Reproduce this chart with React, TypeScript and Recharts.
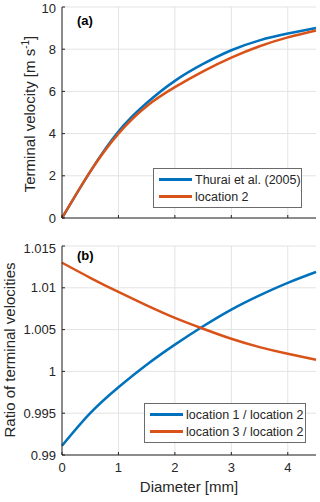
import { CartesianGrid, Label, Legend, Line, LineChart, XAxis, YAxis } from "recharts";

const diameters = [0, 0.5, 1, 1.5, 2, 2.5, 3, 3.5, 4, 4.5];
const thurai = [0, 2.2, 4.1, 5.45, 6.5, 7.3, 7.95, 8.42, 8.74, 9.0];
const location2 = [0, 2.2, 4.0, 5.3, 6.2, 6.95, 7.6, 8.14, 8.56, 8.89];

const ratio1to2 = [0.9911, 0.995, 0.9981, 1.0008, 1.0032, 1.0054, 1.0074, 1.0091, 1.0106, 1.0119];
const ratio3to2 = [1.013, 1.0112, 1.0095, 1.0079, 1.0064, 1.0051, 1.0039, 1.0029, 1.0021, 1.0014];

const xTicks = [0, 1, 2, 3, 4];
const vTicks = [0, 2, 4, 6, 8, 10];
const rTicks = [0.99, 0.995, 1, 1.005, 1.01, 1.015];

const BLUE = "#0072BD";
const ORANGE = "#D95319";
const AXIS = "#262626";
const GRID = "#e3e3e3";
const FONT = "'Liberation Sans', Arial, sans-serif";

const dataA = diameters.map((d, i) => ({ d, thurai: thurai[i], loc2: location2[i] }));
const dataB = diameters.map((d, i) => ({ d, r1: ratio1to2[i], r3: ratio3to2[i] }));

const tickStyle = { fontSize: 13, fill: AXIS, fontFamily: FONT };

function LegendBox({ items, left, top, width }: { items: { name: string; color: string }[]; left: number; top: number; width: number }) {
  return (
    <div
      style={{
        position: "absolute",
        left,
        top,
        width,
        border: "1px solid #6b6b6b",
        background: "#fff",
        padding: "2px 0 2px 5px",
        fontFamily: FONT,
        fontSize: 12.5,
        color: AXIS,
        boxSizing: "border-box",
      }}
    >
      {items.map((it) => (
        <div key={it.name} style={{ display: "flex", alignItems: "center", height: 17 }}>
          <div style={{ width: 33, height: 3, background: it.color, marginRight: 3 }} />
          <span>{it.name}</span>
        </div>
      ))}
    </div>
  );
}

export default function App() {
  return (
    <div style={{ position: "absolute", left: 0, top: 0, width: 320, height: 502, background: "#fff" }}>
      <div style={{ position: "absolute", left: 0, top: 0 }}>
        <LineChart width={320} height={240} data={dataA} margin={{ top: 7, right: 4, left: 0, bottom: 0 }}>
          <CartesianGrid stroke={GRID} horizontalValues={vTicks} verticalValues={xTicks} />
          <XAxis
            type="number"
            dataKey="d"
            domain={[0, 4.5]}
            ticks={xTicks}
            height={22}
            stroke={AXIS}
            tickSize={-3}
            tickFormatter={() => ""}
          />
          <XAxis xAxisId="top" orientation="top" type="number" domain={[0, 4.5]} ticks={xTicks} height={0} stroke={AXIS} tickSize={-3} tickFormatter={() => ""} />
          <YAxis
            type="number"
            domain={[0, 10]}
            ticks={vTicks}
            width={62}
            stroke={AXIS}
            tick={tickStyle}
            tickSize={-3}
            tickMargin={9}
          >
            <Label
              content={() => (
                <text transform="translate(35,114) rotate(-90)" textAnchor="middle" fontFamily={FONT} fontSize={15} fill={AXIS}>
                  Terminal velocity [m s
                  <tspan dy={-6} fontSize={10}>-1</tspan>
                  <tspan dy={6}>]</tspan>
                </text>
              )}
            />
          </YAxis>
          <YAxis yAxisId="right" orientation="right" type="number" domain={[0, 10]} ticks={vTicks} width={0} stroke={AXIS} tickSize={-3} tickFormatter={() => ""} />
          <Line type="natural" dataKey="thurai" stroke={BLUE} strokeWidth={2.5} dot={false} isAnimationActive={false} />
          <Line type="natural" dataKey="loc2" stroke={ORANGE} strokeWidth={2.5} dot={false} isAnimationActive={false} />
          <Legend
            content={() => (
              <LegendBox
                left={153}
                top={168}
                width={149}
                items={[
                  { name: "Thurai et al. (2005)", color: BLUE },
                  { name: "location 2", color: ORANGE },
                ]}
              />
            )}
            wrapperStyle={{ position: "absolute", left: 0, top: 0, width: 0, height: 0 }}
          />
        </LineChart>
        <div style={{ position: "absolute", left: 77, top: 13, fontFamily: FONT, fontWeight: "bold", fontSize: 13, color: "#000" }}>(a)</div>
      </div>
      <div style={{ position: "absolute", left: 0, top: 240 }}>
        <LineChart width={320} height={262} data={dataB} margin={{ top: 6, right: 4, left: 0, bottom: 0 }}>
          <CartesianGrid stroke={GRID} horizontalValues={rTicks} verticalValues={xTicks} />
          <XAxis
            type="number"
            dataKey="d"
            domain={[0, 4.5]}
            ticks={xTicks}
            height={47}
            stroke={AXIS}
            tick={tickStyle}
            tickSize={-3}
            tickMargin={11}
          >
            <Label
              content={() => (
                <text x={189} y={252} textAnchor="middle" fontFamily={FONT} fontSize={15} fill={AXIS}>
                  Diameter [mm]
                </text>
              )}
            />
          </XAxis>
          <XAxis xAxisId="top" orientation="top" type="number" domain={[0, 4.5]} ticks={xTicks} height={0} stroke={AXIS} tickSize={-3} tickFormatter={() => ""} />
          <YAxis
            type="number"
            domain={[0.99, 1.015]}
            ticks={rTicks}
            width={62}
            stroke={AXIS}
            tick={tickStyle}
            tickSize={-3}
            tickMargin={9}
            tickFormatter={(v) => String(v)}
          >
            <Label
              content={() => (
                <text transform="translate(15,110) rotate(-90)" textAnchor="middle" fontFamily={FONT} fontSize={15} fill={AXIS}>
                  Ratio of terminal velocities
                </text>
              )}
            />
          </YAxis>
          <YAxis yAxisId="right" orientation="right" type="number" domain={[0.99, 1.015]} ticks={rTicks} width={0} stroke={AXIS} tickSize={-3} tickFormatter={() => ""} />
          <Line type="natural" dataKey="r1" stroke={BLUE} strokeWidth={2.5} dot={false} isAnimationActive={false} />
          <Line type="natural" dataKey="r3" stroke={ORANGE} strokeWidth={2.5} dot={false} isAnimationActive={false} />
          <Legend
            content={() => (
              <LegendBox
                left={144}
                top={163}
                width={162}
                items={[
                  { name: "location 1 / location 2", color: BLUE },
                  { name: "location 3 / location 2", color: ORANGE },
                ]}
              />
            )}
            wrapperStyle={{ position: "absolute", left: 0, top: 0, width: 0, height: 0 }}
          />
        </LineChart>
        <div style={{ position: "absolute", left: 77, top: 8, fontFamily: FONT, fontWeight: "bold", fontSize: 13, color: "#000" }}>(b)</div>
      </div>
    </div>
  );
}
